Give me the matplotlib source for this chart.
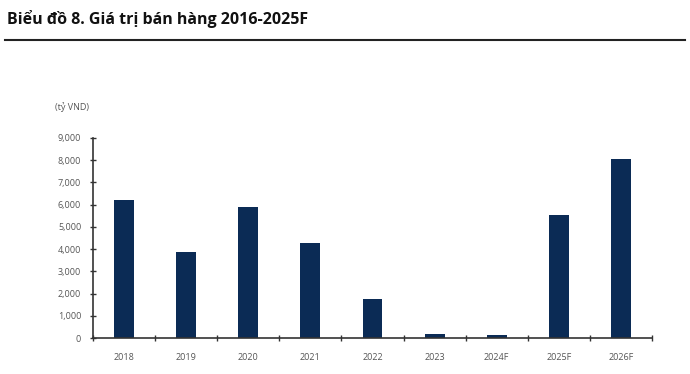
import matplotlib.pyplot as plt
import numpy as np

years = ["2018", "2019", "2020", "2021", "2022", "2023", "2024F", "2025F", "2026F"]
sales = [6200, 3880, 5900, 4270, 1760, 200, 130, 5530, 8060]
yticks = [0, 1000, 2000, 3000, 4000, 5000, 6000, 7000, 8000, 9000]

plt.rcParams['font.family'] = ['Open Sans', 'DejaVu Sans']

fig = plt.figure(figsize=(6.9, 3.74), dpi=100)

# title and rule under it
fig.text(7 / 690, 1 - 19 / 374, "Biểu đồ 8. Giá trị bán hàng 2016-2025F",
         fontsize=11.5, fontweight='bold', va='center', ha='left', color='#111111')
fig.add_artist(plt.Line2D([5 / 690, 685 / 690], [1 - 40 / 374, 1 - 40 / 374],
                          color='#222222', lw=1.5))

ax = fig.add_axes([93 / 690, 1 - 338 / 374, 559 / 690, 200 / 374])
x = np.arange(len(years))
ax.bar(x, sales, width=0.32, color='#0b2b55')

ax.set_xlim(-0.5, len(years) - 0.5)
ax.set_ylim(0, 9000)
ax.set_yticks(yticks)
ax.set_yticklabels([f"{v:,}" for v in yticks])
ax.set_xticks(x)
ax.set_xticklabels(years)
ax.set_xticks(np.arange(len(years) + 1) - 0.5, minor=True)

for s in ['top', 'right']:
    ax.spines[s].set_visible(False)
ax.spines['left'].set_color('#333333')
ax.spines['bottom'].set_color('#333333')
ax.spines['left'].set_linewidth(1.2)
ax.spines['bottom'].set_linewidth(1.2)

ax.tick_params(axis='y', direction='inout', length=5, width=1, color='#333333',
               labelsize=6.5, labelcolor='#555555', pad=6)
ax.tick_params(axis='x', which='major', length=0, labelsize=6.5,
               labelcolor='#555555', pad=11)
ax.tick_params(axis='x', which='minor', direction='inout', length=5, width=1,
               color='#333333')

fig.text(55 / 690, 1 - 107 / 374, "(tỷ VND)", fontsize=6.5, color='#555555',
         va='center', ha='left')

fig.savefig("out.png", dpi=100)
